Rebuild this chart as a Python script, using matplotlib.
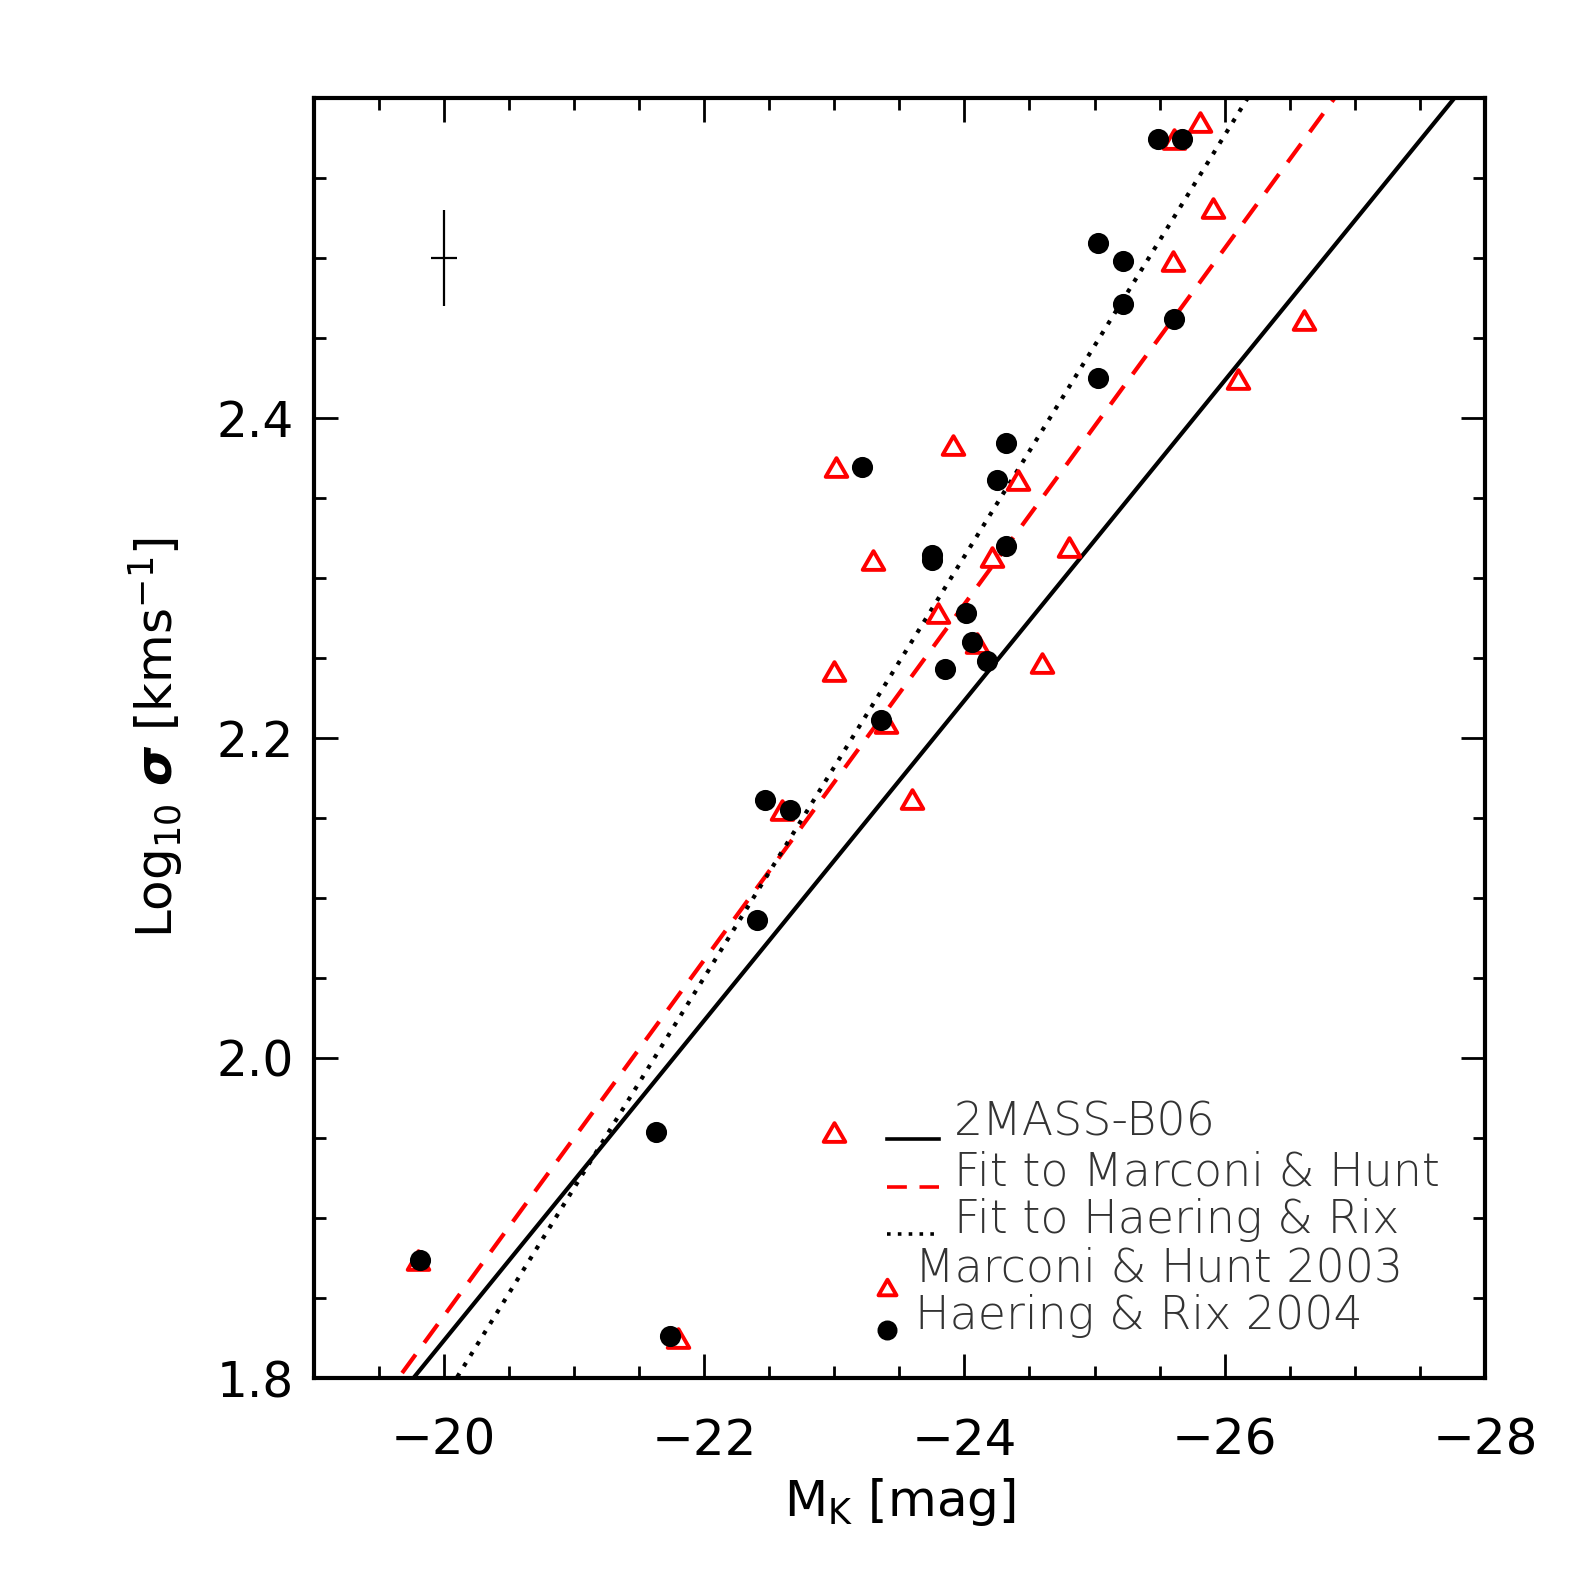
# M_K vs log sigma, 2MASS-B06 relation against MH03 / HR04 samples
import matplotlib
matplotlib.use('Agg')
import matplotlib.pyplot as plt
import numpy as np
from matplotlib.path import Path
from matplotlib.ticker import MultipleLocator, FixedLocator

# Marconi & Hunt 2003 (triangles)
mh_mk = [-25.81, -25.61, -25.91, -25.60, -26.61, -26.10, -23.91, -23.01,
         -24.41, -23.30, -24.21, -24.80, -23.80, -24.10, -23.00, -24.60,
         -23.40, -23.60, -22.60, -23.00, -19.80, -21.80]
mh_sig = [2.585, 2.574, 2.531, 2.498, 2.461, 2.424, 2.383, 2.369,
          2.361, 2.311, 2.313, 2.319, 2.278, 2.259, 2.242, 2.247,
          2.209, 2.162, 2.155, 1.954, 1.874, 1.825]

# Haering & Rix 2004 (filled circles)
hr_mk = [-25.49, -25.67, -25.03, -25.22, -25.22, -25.61, -25.03, -23.21,
         -24.32, -24.25, -23.75, -23.75, -24.32, -24.01, -24.06, -24.17,
         -23.85, -23.36, -22.47, -22.66, -22.41, -21.63, -19.82, -21.74]
hr_sig = [2.574, 2.574, 2.509, 2.498, 2.471, 2.462, 2.425, 2.369,
          2.384, 2.361, 2.314, 2.311, 2.320, 2.278, 2.260, 2.248,
          2.243, 2.211, 2.161, 2.155, 2.086, 1.954, 1.874, 1.826]

# linear relations log sigma = a + b * M_K
fit_names = ['2MASS-B06', 'Fit to Marconi & Hunt', 'Fit to Haering & Rix']
fit_a = [-0.1767, -0.3853, -0.845]
fit_b = [-0.1000, -0.1112, -0.1316]

# typical error bar
err_x, err_y = -20.0, 2.5
err_dx, err_dy = 0.1, 0.03

# equilateral open triangle, centred half way up
tri = Path([(0, 0.75), (-0.866, -0.75), (0.866, -0.75), (0, 0.75)],
           [Path.MOVETO, Path.LINETO, Path.LINETO, Path.CLOSEPOLY])

fig = plt.figure(figsize=(7.89, 7.89), dpi=200)
ax = fig.add_axes([0.1987, 0.1267, 0.7424, 0.8114])

mk = np.array([-19.0, -28.0])
styles = [dict(color='black', ls='-'),
          dict(color='red', ls=(0, (5.5, 3.5))),
          dict(color='black', ls=(0, (1, 2)))]
for a, b, st in zip(fit_a, fit_b, styles):
    ax.plot(mk, a + b * mk, lw=1.5, **st, zorder=2)

ax.plot(mh_mk, mh_sig, ls='none', marker=tri, ms=7.8, mfc='none', mec='red',
        mew=1.4, zorder=3)
ax.plot(hr_mk, hr_sig, ls='none', marker='o', ms=6.6, mfc='black', mec='black',
        zorder=4)

ax.errorbar([err_x], [err_y], xerr=err_dx, yerr=err_dy, fmt='none',
            ecolor='black', elinewidth=0.8, capsize=0)

ax.set_xlim(-19, -28)
ax.set_ylim(1.8, 2.6)
ax.xaxis.set_major_locator(MultipleLocator(2))
ax.xaxis.set_minor_locator(MultipleLocator(0.5))
ax.yaxis.set_major_locator(FixedLocator([1.8, 2.0, 2.2, 2.4]))
ax.yaxis.set_minor_locator(MultipleLocator(0.05))
ax.yaxis.set_major_formatter(plt.FormatStrFormatter('%.1f'))

ax.tick_params(which='both', direction='in', top=True, right=True, width=1.0)
ax.tick_params(which='major', length=8.5)
ax.tick_params(which='minor', length=4.3)
ax.tick_params(axis='x', which='major', labelsize=18, pad=14)
ax.tick_params(axis='y', which='major', labelsize=17.5, pad=7)
for s in ax.spines.values():
    s.set_linewidth(1.5)

ax.set_xlabel(r'M$_\mathrm{K}$ [mag]', fontsize=18, labelpad=4)
ax.set_ylabel(r'Log$_{10}$ $\boldsymbol{\sigma}$ [kms$^{-1}$]', fontsize=18,
              labelpad=11)

# hand-placed legend in the lower right corner
lx0, lx1 = 0.4893, 0.5338
row_y = [0.1994, 0.1609, 0.1232, 0.0855, 0.0482]
line_y = [0.1870, 0.1492, 0.1123]
txt = dict(transform=ax.transAxes, fontsize=16.5, va='center', ha='left',
           color='#333333', fontweight='light')
for yy, st in zip(line_y, styles):
    ax.plot([lx0, lx1], [yy, yy], transform=ax.transAxes, lw=1.3, **st)
for yy, name in zip(row_y[:3], fit_names):
    ax.text(0.5467, yy, name, **txt)
ax.plot([lx0], [0.0711], transform=ax.transAxes, marker=tri, ms=6.5,
        mfc='none', mec='red', mew=1.4, ls='none')
ax.plot([lx0], [0.0373], transform=ax.transAxes, marker='o', ms=6.2,
        color='black', ls='none')
ax.text(0.5134, row_y[3], 'Marconi & Hunt 2003', **txt)
ax.text(0.5134, row_y[4], 'Haering & Rix 2004', **txt)

fig.savefig('out.png', dpi=200)
